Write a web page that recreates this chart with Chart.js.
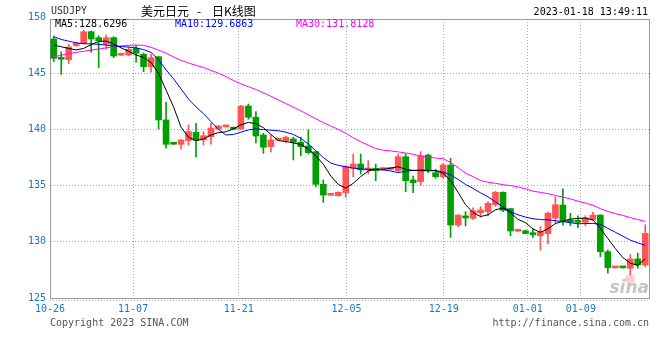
<!DOCTYPE html>
<html lang="zh-CN">
<head>
<meta charset="UTF-8">
<title>美元日元 - 日K线图</title>
<script src="https://cdn.jsdelivr.net/npm/chart.js"></script>
<style>
  html, body { margin: 0; padding: 0; background: #fff; }
</style>
</head>
<body>
<canvas id="kline" width="660" height="360"></canvas>
<script>
// USDJPY daily candles, 10-26 .. 01-18
const opens = [148.04,146.38,146.20,147.45,147.62,148.69,148.16,147.57,148.16,146.60,
  146.62,147.22,146.68,145.58,146.47,140.84,138.72,138.67,139.00,139.74,
  139.06,139.35,140.04,140.22,140.19,140.03,142.08,141.08,139.50,138.46,
  139.04,139.00,139.15,138.85,138.52,138.02,135.11,134.14,134.10,134.37,
  136.54,136.92,136.39,136.54,136.43,136.45,136.33,137.57,135.50,135.35,
  137.72,136.15,135.79,136.83,131.49,132.30,132.09,132.59,132.68,133.30,
  134.40,132.95,130.94,130.98,130.78,130.54,130.72,132.10,133.27,131.94,
  131.90,131.73,131.94,132.38,129.12,127.68,127.72,127.64,128.47,127.94];
const closes = [146.32,146.24,147.33,147.66,148.69,148.04,147.89,148.16,146.53,146.64,
  147.13,146.77,145.58,146.38,140.84,138.67,138.68,139.06,139.80,139.03,
  139.44,140.12,140.30,140.26,140.01,142.08,141.08,139.41,138.41,139.06,
  139.08,139.30,138.85,138.46,137.93,135.11,134.16,134.18,134.40,136.70,
  136.92,136.39,136.54,136.33,136.47,136.54,137.57,135.44,135.26,137.63,
  136.45,135.79,136.83,131.49,132.38,132.12,132.77,132.83,133.42,134.40,
  132.80,130.96,130.98,130.74,130.63,130.90,132.55,133.30,131.79,131.73,
  131.73,132.14,132.38,129.12,127.70,127.72,127.68,128.47,127.94,130.75];
const highs = [148.30,146.91,147.57,147.75,148.84,148.75,148.34,148.40,148.25,146.66,
  147.36,147.45,146.80,146.70,146.47,142.41,138.74,139.10,140.39,140.54,
  139.80,140.57,140.36,140.28,140.22,142.14,142.26,141.58,139.65,139.50,
  139.10,139.40,139.30,139.30,139.95,138.02,135.50,134.20,134.45,136.78,
  137.81,137.81,137.22,136.92,136.50,136.62,137.81,137.81,135.85,138.02,
  137.81,136.45,136.98,137.43,132.40,132.68,133.03,133.12,133.57,134.50,
  134.45,132.98,131.00,131.05,131.10,131.34,132.65,134.00,134.72,132.53,
  132.32,132.32,132.62,132.38,129.27,127.74,127.74,128.86,128.98,131.52];
const lows = [146.03,144.90,145.84,147.39,147.58,146.86,145.49,147.15,146.38,146.58,
  146.56,145.97,145.13,145.10,140.04,138.32,138.66,138.26,138.61,137.52,
  138.61,138.68,140.00,140.20,139.98,140.01,140.90,138.80,137.87,138.00,
  139.02,138.80,137.28,137.63,137.81,134.90,133.51,134.12,134.05,133.96,
  135.79,136.03,136.03,135.44,136.40,136.38,136.24,134.46,134.37,135.05,
  136.15,135.65,135.65,130.40,131.34,131.41,132.00,132.18,132.30,133.15,
  132.68,130.53,130.92,130.70,130.40,129.27,129.80,131.70,131.49,131.43,
  131.25,131.43,131.90,128.68,127.22,127.66,127.66,127.05,127.64,127.79];

const ma5 = [147.50,147.35,147.20,147.07,147.20,147.55,147.82,147.86,147.60,147.25,
  146.95,146.62,146.40,145.95,145.00,143.50,142.00,140.20,139.30,139.00,
  139.15,139.50,139.72,139.78,140.05,140.40,140.62,140.50,140.15,139.55,
  139.00,138.92,138.80,138.65,138.25,137.65,136.90,135.85,135.10,134.78,
  135.20,135.80,136.30,136.45,136.45,136.55,136.68,136.45,136.35,136.33,
  136.32,136.33,136.10,135.45,134.40,133.30,132.60,132.25,132.40,132.85,
  133.00,132.60,132.00,131.70,131.15,130.85,131.15,131.62,131.83,132.02,
  132.08,132.10,131.95,131.20,130.30,129.40,128.60,128.10,127.90,128.50];
const ma10 = [148.25,148.00,147.85,147.70,147.63,147.60,147.57,147.50,147.43,147.37,
  147.32,147.25,147.10,146.85,146.20,145.30,144.50,143.60,142.70,142.00,
  141.40,140.70,140.00,139.50,139.55,139.75,139.95,140.05,139.98,139.93,
  139.88,139.75,139.55,139.20,138.70,138.10,137.50,137.00,136.80,136.68,
  136.55,136.48,136.45,136.42,136.39,136.30,136.15,136.28,136.35,136.39,
  136.38,136.33,136.20,135.95,135.55,135.10,134.75,134.35,134.00,133.55,
  133.10,132.70,132.40,132.20,132.05,131.98,131.95,131.88,131.79,131.70,
  131.60,131.62,131.64,131.55,131.20,130.85,130.50,130.15,129.90,129.69];
const ma30 = [146.45,146.60,146.75,146.85,146.95,147.05,147.15,147.25,147.35,147.42,
  147.48,147.50,147.48,147.30,147.05,146.78,146.45,146.15,145.90,145.70,
  145.50,145.25,145.00,144.70,144.35,144.05,143.80,143.55,143.25,142.95,
  142.62,142.30,141.98,141.65,141.30,140.95,140.60,140.30,140.00,139.65,
  139.25,138.90,138.60,138.30,138.15,138.08,138.00,137.90,137.78,137.65,
  137.55,137.45,137.40,137.05,136.60,136.10,135.80,135.45,135.30,135.20,
  135.08,135.00,134.88,134.72,134.50,134.40,134.28,134.12,133.98,133.82,
  133.62,133.45,133.25,132.95,132.70,132.50,132.35,132.15,131.98,131.81];
const maLast = [128.6296, 129.6863, 131.8128];

const xTickLabels = ['10-26','11-07','11-21','12-05','12-19','01-01','01-09'];
const xTickAt = [0, 11.1, 25.2, 39.6, 52.6, 63.8, 70.9];
const yTicks = [125, 130, 135, 140, 145, 150];

const UP = '#ff5555', DOWN = '#00a000';
const candleColors = opens.map((o, i) => closes[i] >= o ? UP : DOWN);
const at = i => i + 0.5;
const mono = "'DejaVu Sans Mono', monospace";
const AXIS_BLUE = '#1878c8';

// frame, title bar, legend and footer text
const frame = {
  id: 'frame',
  afterDraw(chart) {
    const { ctx, chartArea: a } = chart;
    ctx.save();
    ctx.strokeStyle = '#999';
    ctx.lineWidth = 1;
    ctx.beginPath();
    ctx.moveTo(a.left, a.top + 0.5);
    ctx.lineTo(a.right + 0.5, a.top + 0.5);
    ctx.lineTo(a.right + 0.5, a.bottom);
    ctx.stroke();
    ctx.setLineDash([1, 2]);
    ctx.strokeStyle = '#aaa';
    ctx.beginPath();
    ctx.moveTo(a.left, a.bottom + 2.5);
    ctx.lineTo(a.right + 1, a.bottom + 2.5);
    ctx.stroke();
    ctx.setLineDash([]);

    ctx.textBaseline = 'middle';
    ctx.font = '10px ' + mono;
    ctx.fillStyle = '#333';
    ctx.fillText('USDJPY', 51, 11);

    ctx.fillStyle = '#000';
    ctx.font = "12px 'Noto Sans CJK SC'";
    ctx.fillText('美元日元', 141, 11);
    ctx.fillText('-', 197, 11);
    ctx.fillText('日K线图', 212, 11);

    ctx.font = '10px ' + mono;
    ctx.textAlign = 'right';
    ctx.fillText('2023-01-18 13:49:11', 648, 12);

    ctx.textAlign = 'left';
    ctx.fillStyle = '#000';
    ctx.fillText('MA5:' + maLast[0].toFixed(4), 55, 24);
    ctx.fillStyle = '#0000ff';
    ctx.fillText('MA10:' + maLast[1].toFixed(4), 175, 24);
    ctx.fillStyle = '#ff00ff';
    ctx.fillText('MA30:' + maLast[2].toFixed(4), 296, 24);

    ctx.fillStyle = '#555';
    ctx.fillText('Copyright 2023 SINA.COM', 50, 323);
    ctx.textAlign = 'right';
    ctx.fillText('http://finance.sina.com.cn', 649, 323);

    // faint sina watermark
    ctx.fillStyle = 'rgba(150,150,150,0.55)';
    ctx.font = "italic bold 17px 'DejaVu Sans'";
    ctx.fillText('sina', 649, 289);
    ctx.fillStyle = 'rgba(255,120,120,0.35)';
    ctx.beginPath();
    ctx.arc(630, 279, 5, 0, Math.PI * 2);
    ctx.fill();
    ctx.restore();
  }
};

const lineSet = (label, values, color) => ({
  type: 'line',
  label,
  data: values.map((v, i) => ({ x: at(i), y: v })),
  borderColor: color,
  borderWidth: 1,
  pointRadius: 0,
  tension: 0,
  order: 0
});

new Chart(document.getElementById('kline'), {
  type: 'bar',
  data: {
    datasets: [
      lineSet('MA5', ma5, '#000000'),
      lineSet('MA10', ma10, '#0000ff'),
      lineSet('MA30', ma30, '#ff00ff'),
      {
        label: 'body',
        data: opens.map((o, i) => ({ x: at(i), y: [Math.min(o, closes[i]), Math.max(o, closes[i])] })),
        backgroundColor: candleColors,
        barThickness: 6,
        minBarLength: 2,
        grouped: false,
        order: 1
      },
      {
        label: 'wick',
        data: highs.map((h, i) => ({ x: at(i), y: [lows[i], h] })),
        backgroundColor: candleColors,
        barThickness: 1,
        grouped: false,
        order: 2
      }
    ]
  },
  options: {
    responsive: false,
    animation: false,
    devicePixelRatio: 1,
    layout: { padding: { left: 0, right: 11, top: 19, bottom: 42 } },
    plugins: { legend: { display: false }, tooltip: { enabled: false } },
    scales: {
      x: {
        type: 'linear',
        min: 0,
        max: 80,
        offset: false,
        afterFit: s => { s.height = 20; },
        afterBuildTicks: s => { s.ticks = xTickAt.map(v => ({ value: v })); },
        ticks: {
          callback: (v, i) => xTickLabels[i],
          autoSkip: false,
          maxRotation: 0,
          color: AXIS_BLUE,
          font: { family: mono, size: 10 },
          padding: 5
        },
        grid: {
          offset: false,
          drawTicks: false,
          color: c => c.index === 0 ? 'rgba(0,0,0,0)' : '#aaa'
        },
        border: { color: '#999', dash: [1, 2] }
      },
      y: {
        min: 125,
        max: 149.82,
        afterFit: s => { s.width = 50; },
        afterBuildTicks: s => { s.ticks = yTicks.map(v => ({ value: v })); },
        ticks: {
          color: AXIS_BLUE,
          font: { family: mono, size: 10 },
          padding: 4
        },
        grid: {
          drawTicks: false,
          color: c => (c.tick && (c.tick.value === 125 || c.tick.value === 150)) ? 'rgba(0,0,0,0)' : '#aaa'
        },
        border: { color: '#999', dash: [1, 2] }
      }
    }
  },
  plugins: [frame]
});
</script>
</body>
</html>
